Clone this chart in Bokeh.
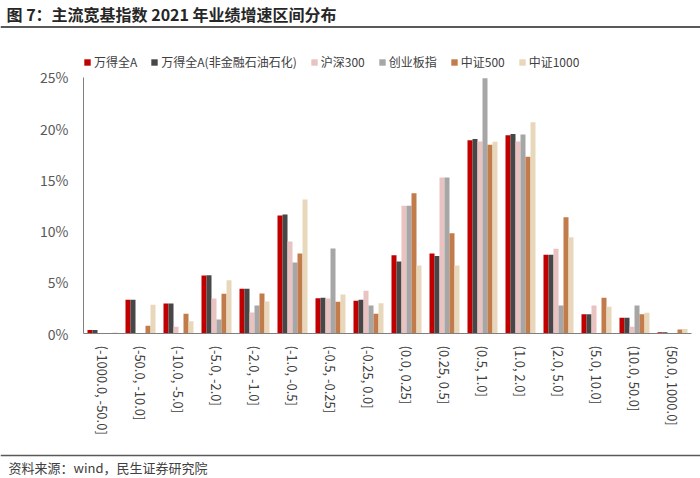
import math
from bokeh.plotting import figure
from bokeh.layouts import column
from bokeh.models import (ColumnDataSource, Range1d, FactorRange, FixedTicker,
                          PrintfTickFormatter, Legend, LegendItem, Span)
from bokeh.transform import dodge
from bokeh.core.properties import value
from bokeh.embed import file_html
from bokeh.resources import INLINE

FONT = "Noto Sans CJK SC"

title_text = "图 7：主流宽基指数 2021 年业绩增速区间分布"
source_text = "资料来源：wind，民生证券研究院"

categories = ["(-1000.0, -50.0]", "(-50.0, -10.0]", "(-10.0, -5.0]", "(-5.0, -2.0]",
              "(-2.0, -1.0]", "(-1.0, -0.5]", "(-0.5, -0.25]", "(-0.25, 0.0]",
              "(0.0, 0.25]", "(0.25, 0.5]", "(0.5, 1.0]", "(1.0, 2.0]",
              "(2.0, 5.0]", "(5.0, 10.0]", "(10.0, 50.0]", "(50.0, 1000.0]"]

series_names = ["万得全A", "万得全A(非金融石油石化)", "沪深300", "创业板指", "中证500", "中证1000"]

wind_a = [0.35, 3.30, 2.93, 5.66, 4.36, 11.52, 3.45, 3.19, 7.65, 7.81, 18.88, 19.37, 7.68, 1.89, 1.53, 0.13]
wind_a_ex = [0.35, 3.30, 2.93, 5.70, 4.38, 11.62, 3.50, 3.29, 7.03, 7.58, 19.00, 19.47, 7.68, 1.89, 1.53, 0.13]
hs300 = [0.0, 0.0, 0.65, 3.42, 2.05, 8.98, 3.42, 4.17, 12.47, 15.23, 18.75, 18.75, 8.27, 2.73, 0.65, 0.0]
cyb = [0.0, 0.0, 0.0, 1.37, 2.73, 6.93, 8.30, 2.73, 12.47, 15.23, 24.93, 19.43, 2.73, 0.0, 2.73, 0.0]
zz500 = [0.0, 0.75, 1.92, 3.87, 3.90, 7.81, 3.09, 1.92, 13.70, 9.80, 18.42, 17.25, 11.36, 3.48, 1.89, 0.39]
zz1000 = [0.10, 2.80, 1.20, 5.20, 3.12, 13.08, 3.80, 2.96, 6.64, 6.64, 18.72, 20.64, 9.41, 2.60, 2.02, 0.45]

y_ticks = [0, 5, 10, 15, 20, 25]

colors = ["#C00000", "#474747", "#E9C2C2", "#A6A6A6", "#C27B4A", "#E8D7BA"]

W = 700

# ---- top (title) ----
top = figure(width=W, height=30, x_range=Range1d(0, W), y_range=Range1d(0, 30),
             x_axis_type=None, y_axis_type=None, toolbar_location=None,
             output_backend="svg", min_border=0, outline_line_color=None,
             frame_align=False)
top.grid.visible = False
top.text(x=[6], y=[17], text=[title_text], text_font=value(FONT), text_font_size="16px",
         text_font_style="bold", text_color="#262626", text_baseline="middle")
top.add_layout(Span(location=3.5, dimension="width", line_color="#595959", line_width=2))

# ---- main chart ----
src = ColumnDataSource(dict(cat=categories, s0=wind_a, s1=wind_a_ex, s2=hs300,
                            s3=cyb, s4=zz500, s5=zz1000))

p = figure(width=W, height=420, x_range=FactorRange(*categories, range_padding=0),
           y_range=Range1d(0, 27.83), toolbar_location=None, output_backend="svg",
           min_border_left=83, min_border_right=9, min_border_top=18, min_border_bottom=117,
           outline_line_color=None, frame_align=False)
p.grid.visible = False

bw = 5.0 / 38.0
renderers = []
for i, key in enumerate(["s0", "s1", "s2", "s3", "s4", "s5"]):
    r = p.vbar(x=dodge("cat", (i - 2.5) * bw, range=p.x_range), top=key, width=bw,
               source=src, fill_color=colors[i], line_color=None)
    renderers.append(r)

legend = Legend(items=[LegendItem(label=series_names[i], renderers=[renderers[i]])
                       for i in range(6)],
                orientation="horizontal", location=(0, 263), margin=0, padding=0,
                spacing=13, glyph_width=8, glyph_height=8, label_standoff=3,
                label_text_font=FONT, label_text_font_size="12px",
                label_text_color="#404040", border_line_color=None,
                background_fill_alpha=0)
p.add_layout(legend)

p.yaxis.ticker = FixedTicker(ticks=y_ticks)
p.yaxis.formatter = PrintfTickFormatter(format="%d%%")
p.yaxis.bounds = (0, 25)
p.yaxis.major_tick_line_color = None
p.yaxis.minor_tick_line_color = None
p.yaxis.major_tick_out = 0
p.yaxis.major_tick_in = 0
p.yaxis.axis_line_color = "#808080"
p.yaxis.major_label_text_font = FONT
p.yaxis.major_label_text_font_size = "14px"
p.yaxis.major_label_text_color = "#595959"
p.yaxis.major_label_standoff = 15

p.xaxis.major_tick_line_color = None
p.xaxis.minor_tick_line_color = None
p.xaxis.major_tick_out = 0
p.xaxis.major_tick_in = 0
p.xaxis.axis_line_color = "#808080"
p.xaxis.major_label_orientation = -math.pi / 2
p.xaxis.major_label_text_font = FONT
p.xaxis.major_label_text_font_size = "13px"
p.xaxis.major_label_text_color = "#404040"
p.xaxis.major_label_standoff = 12

# ---- bottom (source) ----
bot = figure(width=W, height=28, x_range=Range1d(0, W), y_range=Range1d(0, 28),
             x_axis_type=None, y_axis_type=None, toolbar_location=None,
             output_backend="svg", min_border=0, outline_line_color=None,
             frame_align=False)
bot.grid.visible = False
bot.add_layout(Span(location=23, dimension="width", line_color="#595959", line_width=1.5))
bot.text(x=[8], y=[11], text=[source_text], text_font=value(FONT), text_font_size="13px",
         text_color="#404040", text_baseline="middle")

layout = column(top, p, bot, spacing=0)
open("out.html", "w").write(file_html(layout, INLINE))
